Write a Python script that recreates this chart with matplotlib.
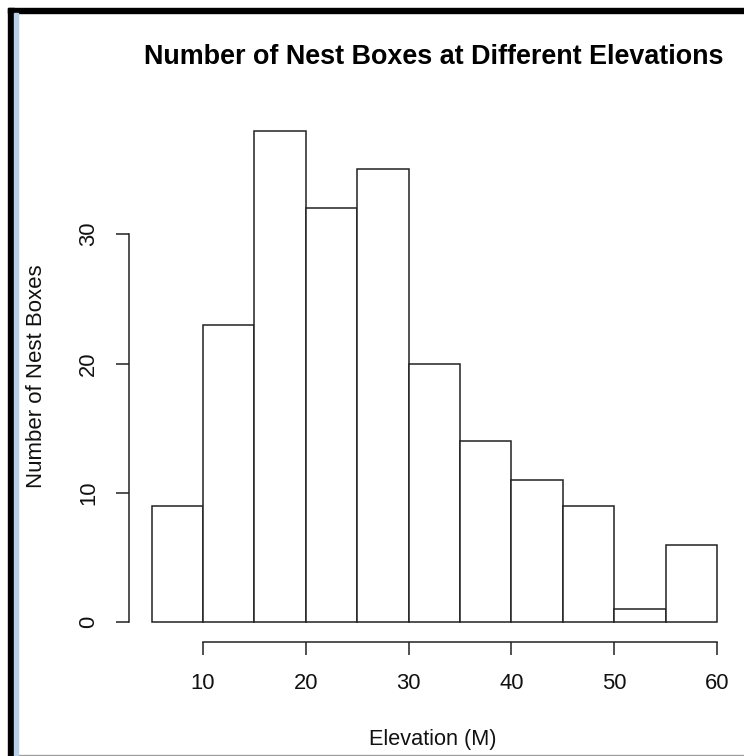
import matplotlib.pyplot as plt
from matplotlib.patches import Rectangle
from matplotlib.lines import Line2D

# Histogram data: bin edges and counts per bin
bin_edges = [5, 10, 15, 20, 25, 30, 35, 40, 45, 50, 55, 60]
counts = [9, 23, 38, 32, 35, 20, 14, 11, 9, 1, 6]
x_ticks = [10, 20, 30, 40, 50, 60]
y_ticks = [0, 10, 20, 30]

TITLE = "Number of Nest Boxes at Different Elevations"
XLABEL = "Elevation (M)"
YLABEL = "Number of Nest Boxes"

plt.rcParams['font.family'] = ['Liberation Sans', 'DejaVu Sans']

fig = plt.figure(figsize=(7.44, 7.56), dpi=100)

# window frame around the screenshot (left / top black edge, light blue strip)
W, H = 744, 756
fig.patches.append(Rectangle((8 / W, 0), 6 / W, (H - 8) / H, transform=fig.transFigure,
                             color='black', zorder=5))
fig.patches.append(Rectangle((8 / W, (H - 13) / H), (W - 8) / W, 5 / H, transform=fig.transFigure,
                             color='black', zorder=5))
fig.patches.append(Rectangle((14 / W, 0), 4 / W, (H - 13) / H, transform=fig.transFigure,
                             color='#b7d0ea', zorder=5))
fig.lines.append(Line2D([14 / W, 1], [1.5 / H, 1.5 / H], transform=fig.transFigure,
                        color='#a0a0a0', lw=1))

ax = fig.add_axes([129 / W, (H - 642) / H, 610.6 / W, 531 / H])

# R style range extension of 4%
xr = bin_edges[-1] - bin_edges[0]
ax.set_xlim(bin_edges[0] - 0.04 * xr, bin_edges[-1] + 0.04 * xr)
yr = max(counts)
ax.set_ylim(-0.04 * yr, yr * 1.04)

widths = [bin_edges[i + 1] - bin_edges[i] for i in range(len(counts))]
ax.bar(bin_edges[:-1], counts, width=widths, align='edge',
       facecolor='white', edgecolor='#222222', linewidth=1.1)

for side in ['top', 'right']:
    ax.spines[side].set_visible(False)
ax.spines['left'].set_bounds(y_ticks[0], y_ticks[-1])
ax.spines['bottom'].set_bounds(x_ticks[0], x_ticks[-1])
for side in ['left', 'bottom']:
    ax.spines[side].set_color('#222222')
    ax.spines[side].set_linewidth(1.1)

ax.set_xticks(x_ticks)
ax.set_yticks(y_ticks)
ax.set_yticklabels([str(v) for v in y_ticks], rotation=90, va='center')
ax.tick_params(axis='both', direction='out', length=9.4, width=1.1, color='#222222',
               labelsize=15.8, labelcolor='#111111')
ax.tick_params(axis='x', pad=13)
ax.tick_params(axis='y', pad=12)

fig.text(433.5 / W, 1 - 57 / H, TITLE, ha='center', va='center',
         fontsize=19.4, fontweight='bold', color='black')
fig.text(433 / W, 1 - 740 / H, XLABEL, ha='center', va='center',
         fontsize=15.6, color='#111111')
fig.text(37 / W, 1 - 376 / H, YLABEL, ha='center', va='center', rotation=90,
         fontsize=16, color='#111111')

fig.savefig('out.png', dpi=100)
